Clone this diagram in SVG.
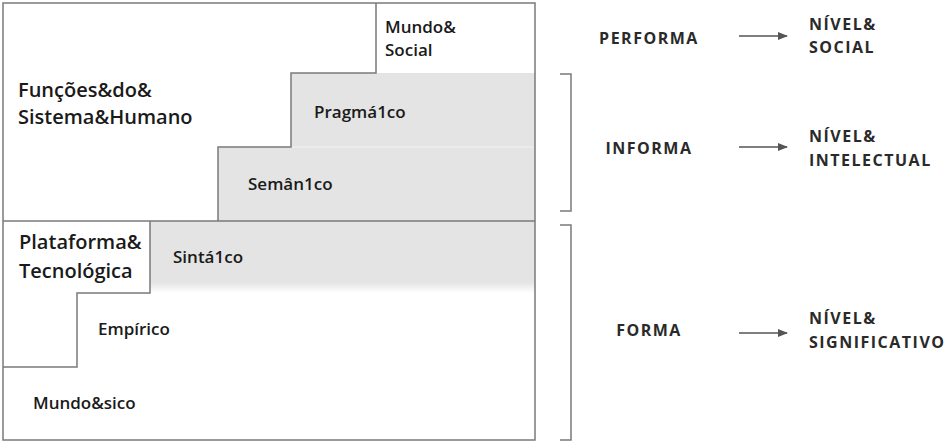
<svg xmlns="http://www.w3.org/2000/svg" width="946" height="447" viewBox="0 0 946 447">
<style>
.t{font-family:"Open Sans","Liberation Sans",sans-serif;font-weight:600;fill:#1a1a1a}
.s{font-size:17px}
.b{font-size:20px}
.r{font-family:"Open Sans","Liberation Sans",sans-serif;font-weight:700;font-size:16px;fill:#2a2a2a;letter-spacing:1.5px}
.ln{fill:none;stroke:#7a7a7a;stroke-width:1.5}
</style>
<defs>
<linearGradient id="fade" x1="0" y1="0" x2="0" y2="1">
<stop offset="0" stop-color="#e4e4e4"/>
<stop offset="0.85" stop-color="#e4e4e4"/>
<stop offset="1" stop-color="#ffffff"/>
</linearGradient>
<marker id="ah" markerWidth="10" markerHeight="8" refX="9" refY="4" orient="auto" markerUnits="userSpaceOnUse">
<path d="M0,0 L10,4 L0,8 z" fill="#555"/>
</marker>
</defs>
<rect width="946" height="447" fill="#fff"/>
<g id="bands">
<rect x="291" y="73" width="244" height="74" fill="#e4e4e4"/>
<rect x="218" y="147" width="317" height="74" fill="#e4e4e4"/>
<line x1="291" y1="147" x2="535" y2="147" stroke="#f2f2f2" stroke-width="1"/>
<rect x="150" y="221" width="385" height="72" fill="url(#fade)"/>
</g>
<g id="frame">
<rect x="3" y="3" width="532" height="437" class="ln"/>
<line x1="3" y1="221" x2="535" y2="221" class="ln"/>
<path d="M376,3 V73 H291 V147 H218 V221" class="ln"/>
<path d="M150,221 V293 H77 V367 H3" class="ln"/>
</g>
<g id="mundo-social"><text class="t s" x="385" y="33">Mundo&amp;</text><text class="t s" x="385" y="56">Social</text></g>
<g id="funcoes"><text class="t b" x="18" y="97">Funções&amp;do&amp;</text><text class="t b" x="18" y="124">Sistema&amp;Humano</text></g>
<g id="pragmatico"><text class="t s" x="314" y="118">Pragmá1co</text></g>
<g id="semantico"><text class="t s" x="248" y="190">Semân1co</text></g>
<g id="plataforma"><text class="t b" x="19" y="249">Plataforma&amp;</text><text class="t b" x="19" y="278">Tecnológica</text></g>
<g id="sintatico"><text class="t s" x="173" y="263">Sintá1co</text></g>
<g id="empirico"><text class="t s" x="98" y="335">Empírico</text></g>
<g id="mundo-fisico"><text class="t s" x="33" y="409">Mundo&amp;sico</text></g>
<g id="brackets">
<path d="M560,74 H571 V211 H560" class="ln"/>
<path d="M560,225 H571 V440 H560" class="ln"/>
</g>
<g id="performa"><text class="r" x="649" y="44" text-anchor="middle">PERFORMA</text></g>
<g id="informa"><text class="r" x="649" y="154" text-anchor="middle">INFORMA</text></g>
<g id="forma"><text class="r" x="649" y="336" text-anchor="middle">FORMA</text></g>
<g id="nivel-social"><text class="r" x="809" y="30">NÍVEL&amp;</text><text class="r" x="809" y="53">SOCIAL</text></g>
<g id="nivel-intelectual"><text class="r" x="809" y="142">NÍVEL&amp;</text><text class="r" x="809" y="166">INTELECTUAL</text></g>
<g id="nivel-significativo"><text class="r" x="809" y="324">NÍVEL&amp;</text><text class="r" x="809" y="348">SIGNIFICATIVO</text></g>
<g id="connectors" stroke="#555" stroke-width="1.5">
<line x1="739" y1="36" x2="787" y2="36" marker-end="url(#ah)"/>
<line x1="739" y1="147" x2="787" y2="147" marker-end="url(#ah)"/>
<line x1="739" y1="333" x2="787" y2="333" marker-end="url(#ah)"/>
</g>
</svg>
